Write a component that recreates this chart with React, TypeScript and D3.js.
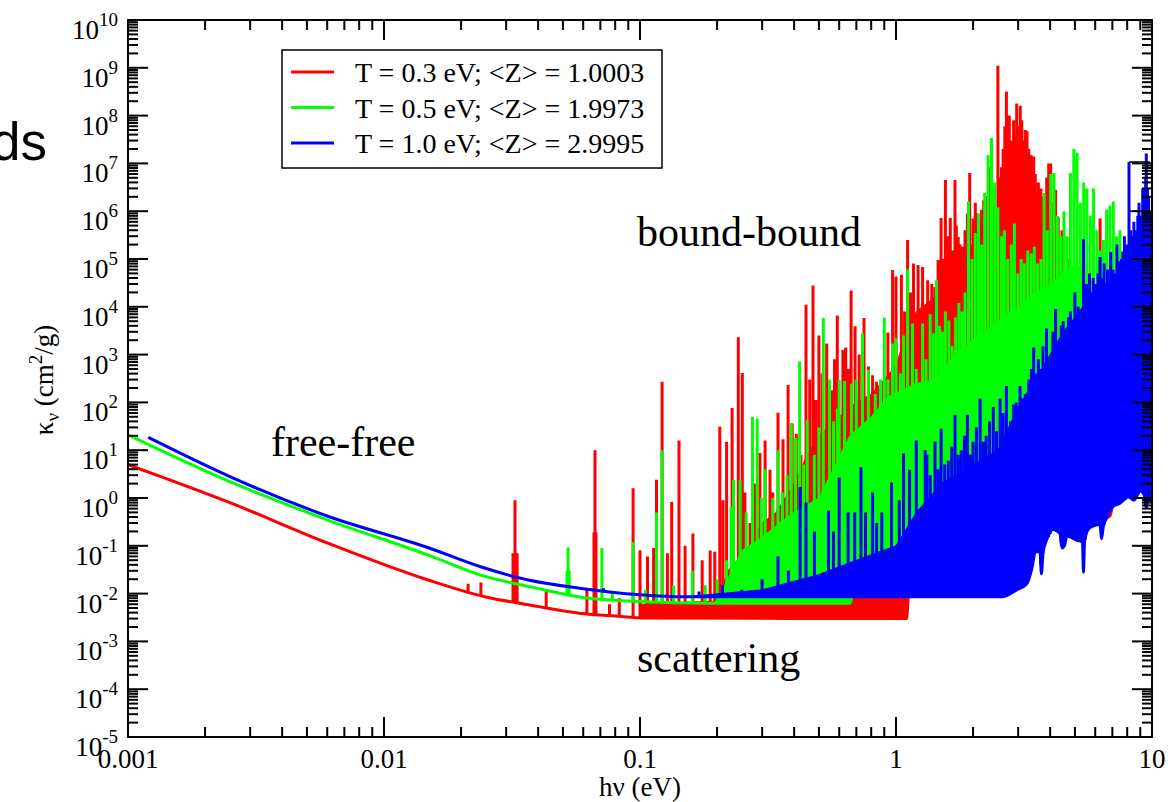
import React from "react";
import * as d3 from "d3";

type P = [number, number];

// axis ticks
const xTickVals = [0.001, 0.01, 0.1, 1, 10];
const xTickLabels = ["0.001", "0.01", "0.1", "1", "10"];
const yExponents = [-5, -4, -3, -2, -1, 0, 1, 2, 3, 4, 5, 6, 7, 8, 9, 10];

const legendLabels = [
  "T = 0.3 eV; <Z> = 1.0003",
  "T = 0.5 eV; <Z> = 1.9973",
  "T = 1.0 eV; <Z> = 2.9995",
];
const colors = ["#ff0000", "#00ff00", "#0000ff"];

// T = 0.3 eV (red): continuum floor, solid core of the line forest, single lines
const redCont: P[] = [
  [0.001, 5.0], [0.0025, 0.8], [0.006, 0.115], [0.015, 0.019], [0.025, 0.0085],
  [0.037, 0.0058], [0.058, 0.0039], [0.08, 0.0034], [0.106, 0.0031], [1.1, 0.003],
  [1.12, 0.0095], [2.5, 0.0095], [2.9, 0.016], [3.2, 0.025], [3.4, 0.05], [3.5, 0.09],
  [3.9, 0.15], [4.1, 0.25], [4.4, 0.25], [5.0, 0.3], [6.3, 0.35], [6.85, 0.42],
  [7.05, 0.75], [7.5, 0.9], [8.0, 1.2], [9.0, 1.6], [10, 1.6],
];
const redBand: P[] = [
  [0.1, 0.006], [0.2, 0.007], [0.22, 0.03], [0.26, 0.08], [0.3, 0.3], [0.34, 0.5],
  [0.4, 2], [0.45, 8], [0.5, 20], [0.6, 50], [0.7, 100], [0.8, 150], [0.9, 300],
  [1.0, 600], [1.1, 3e3], [1.2, 8e3], [1.4, 1.5e4], [1.6, 5e4], [1.9, 1e5],
  [2.2, 2e5], [2.5, 5e5], [2.8, 2e6], [3.1, 2e6], [3.4, 1e6], [3.7, 3e5], [4.0, 3e5],
  [4.3, 1e5], [4.6, 1e3], [5.0, 100], [6.0, 10], [8.0, 5], [10, 5],
];
const redLines: P[] = [
  [0.0213, 0.016], [0.0239, 0.017], [0.0319, 0.07], [0.0325, 0.9], [0.0331, 0.07],
  [0.043, 0.012], [0.062, 0.013], [0.0661, 0.19], [0.0667, 10], [0.0673, 0.19],
  [0.076, 0.006], [0.083, 0.008], [0.094, 1.6], [0.1, 0.081], [0.107, 0.06],
  [0.113, 0.09], [0.116, 2.4], [0.122, 270], [0.128, 0.07], [0.133, 0.83],
  [0.142, 16], [0.15, 0.1], [0.161, 0.18], [0.175, 0.05], [0.188, 0.08],
  [0.196, 0.075], [0.205, 31], [0.211, 0.9], [0.218, 15], [0.229, 76],
  [0.242, 2300], [0.251, 410], [0.257, 1.3], [0.269, 0.3], [0.28, 2], [0.294, 8.7],
  [0.308, 16], [0.322, 3.9], [0.33, 1.3], [0.346, 61], [0.362, 17], [0.379, 230],
  [0.393, 36], [0.408, 22], [0.425, 8], [0.445, 1.1e4], [0.46, 300], [0.474, 2.8e4],
  [0.486, 112], [0.5, 2.5e3], [0.515, 400], [0.536, 1.7e3], [0.562, 180],
  [0.575, 800], [0.59, 6.6e3], [0.62, 1.25e3], [0.636, 1.4e3], [0.65, 500],
  [0.668, 2.2e4], [0.692, 3.9e3], [0.718, 1e3], [0.75, 5.8e3], [0.78, 560],
  [0.81, 370], [0.84, 270], [0.88, 280], [0.93, 2.9e3], [0.97, 5.9e4], [1.0, 4.3e4],
  [1.05, 4.7e4], [1.08, 8e3], [1.11, 2.5e5], [1.14, 2e4], [1.17, 8e4], [1.22, 7.5e4],
  [1.27, 6.8e4], [1.33, 3.6e4], [1.38, 3e4], [1.42, 2.6e4], [1.46, 9.5e4],
  [1.5, 7.2e5], [1.53, 1e5], [1.56, 4.5e6], [1.59, 3e5], [1.63, 7.2e5], [1.66, 1.5e5],
  [1.7, 4.5e6], [1.72, 5e5], [1.75, 2.9e5], [1.78, 2e5], [1.82, 1.8e5], [1.86, 4e5],
  [1.9, 9e5], [1.94, 6.3e6], [1.97, 2e5], [2.0, 7e5], [2.04, 1.5e6], [2.08, 9e5],
  [2.12, 6e5], [2.16, 1.07e6], [2.2, 1.7e6], [2.24, 2e6], [2.28, 5e5], [2.3, 4e5],
  [2.33, 8.3e6], [2.37, 3e6], [2.42, 1.3e6], [2.46, 8e5], [2.5, 1.1e9], [2.53, 5e6],
  [2.58, 8.3e6], [2.62, 2e7], [2.66, 6e7], [2.7, 3.2e8], [2.74, 3e7], [2.77, 1e8],
  [2.8, 8e6], [2.84, 3e7], [2.88, 8e7], [2.92, 4e7], [2.96, 1.8e8], [3.0, 6e7],
  [3.06, 1.6e8], [3.1, 8e7], [3.14, 3e7], [3.2, 5e7], [3.25, 4.7e7], [3.3, 2e7],
  [3.37, 1.5e7], [3.4, 8e6], [3.45, 1.4e7], [3.5, 6e6], [3.55, 2.4e6], [3.6, 4e6],
  [3.68, 3e6], [3.75, 2e6], [3.8, 2.4e6], [3.88, 5e6], [3.95, 1e7], [4.02, 1e7],
  [4.1, 1.5e6], [4.2, 2.8e6], [4.3, 7.5e5], [4.45, 4e5], [4.7, 1e5], [5.2, 3e4],
  [6.2, 9.5e4], [6.27, 7e5],
];

// T = 0.5 eV (green)
const greenCont: P[] = [
  [0.001, 21], [0.0025, 2.2], [0.006, 0.35], [0.015, 0.063], [0.024, 0.024],
  [0.037, 0.014], [0.058, 0.0085], [0.1, 0.0068], [0.19, 0.0063], [0.66, 0.0063],
  [0.68, 0.0098], [2.5, 0.0098], [2.9, 0.017], [3.2, 0.027], [3.4, 0.055], [3.5, 0.1],
  [3.9, 0.17], [4.1, 0.27], [4.4, 0.27], [5.0, 0.32], [6.3, 0.37], [6.85, 0.6],
  [7.05, 0.8], [7.5, 0.95], [8.0, 1.25], [9.0, 1.7], [10, 1.7],
];
const greenBand: P[] = [
  [0.19, 0.0063], [0.2, 0.007], [0.22, 0.02], [0.25, 0.08], [0.3, 0.15], [0.35, 0.3],
  [0.4, 0.5], [0.5, 1], [0.66, 20], [0.8, 50], [0.93, 130], [1.2, 250], [1.43, 300],
  [1.7, 1e3], [2.0, 2e3], [2.5, 5e3], [3.0, 1e4], [3.5, 2e4], [4.0, 3e4], [4.5, 5e4],
  [5.0, 8e4], [5.5, 5e4], [6.0, 3e4], [7.0, 3e4], [8.0, 1e4], [9.0, 5e3], [10, 5e3],
];
const greenLines: P[] = [
  [0.0519, 0.03], [0.0524, 0.093], [0.0529, 0.03], [0.071, 0.09], [0.078, 0.01],
  [0.094, 0.12], [0.105, 0.012], [0.116, 0.5], [0.122, 10], [0.135, 0.015],
  [0.16, 0.03], [0.18, 0.015], [0.2, 0.02], [0.218, 0.05], [0.227, 0.65],
  [0.232, 2.4], [0.246, 2.4], [0.26, 0.5], [0.275, 50], [0.287, 46], [0.298, 1],
  [0.308, 4], [0.33, 1], [0.346, 10], [0.36, 1.3], [0.375, 3], [0.39, 37],
  [0.405, 18], [0.42, 720], [0.435, 5], [0.45, 42], [0.48, 8], [0.5, 30],
  [0.52, 5.8e3], [0.55, 300], [0.57, 40], [0.59, 75], [0.6, 300], [0.63, 280],
  [0.67, 250], [0.7, 300], [0.74, 2.8e3], [0.78, 480], [0.83, 150], [0.87, 300],
  [0.9, 6e3], [0.93, 300], [0.97, 1.7e3], [1.0, 2.2e3], [1.04, 400], [1.07, 2.5e3],
  [1.11, 6e4], [1.16, 4.5e3], [1.2, 500], [1.27, 4.5e3], [1.31, 800], [1.36, 7e3],
  [1.4, 2.8e3], [1.44, 3.6e4], [1.48, 4e3], [1.52, 3e3], [1.56, 8e3], [1.61, 5.2e3],
  [1.66, 1.5e3], [1.71, 6e3], [1.76, 1.2e4], [1.81, 8e3], [1.86, 2e4], [1.92, 1.6e6],
  [1.98, 1e5], [2.04, 3.5e5], [2.1, 9e5], [2.16, 2e5], [2.22, 2.4e6], [2.29, 1.5e7],
  [2.36, 3.4e7], [2.43, 4e6], [2.5, 1.2e6], [2.58, 3e5], [2.65, 4e5], [2.73, 1e5],
  [2.82, 2e5], [2.9, 5.5e5], [2.99, 5e4], [3.08, 1e5], [3.17, 8e4], [3.27, 1.5e5],
  [3.37, 1.3e5], [3.47, 1.8e5], [3.57, 8e4], [3.68, 1e5], [3.79, 2.4e6], [3.9, 4e5],
  [4.02, 6e6], [4.14, 6.3e6], [4.27, 8e5], [4.4, 3e5], [4.53, 1e6], [4.66, 3e5],
  [4.8, 6.3e6], [4.95, 2e7], [5.1, 1.7e7], [5.25, 1.5e6], [5.41, 4e6], [5.57, 3e6],
  [5.74, 8e5], [5.91, 3e6], [6.09, 4e5], [6.27, 1.5e5], [6.46, 2.5e5], [6.65, 1.07e6],
  [6.85, 1.3e6], [7.06, 1.6e6], [7.27, 3e5], [7.49, 4e5], [7.71, 1.5e5], [7.94, 1.2e5],
  [8.18, 5e4],
];

// T = 1.0 eV (blue)
const blueCont: P[] = [
  [0.0012, 18.5], [0.0025, 2.8], [0.006, 0.42], [0.015, 0.09], [0.024, 0.036],
  [0.037, 0.019], [0.058, 0.013], [0.1, 0.0095], [0.15, 0.0086], [2.6, 0.0086],
  [2.96, 0.012], [3.24, 0.016], [3.4, 0.035], [3.5, 0.075], [3.65, 0.075],
  [3.7, 0.026], [3.75, 0.07], [3.87, 0.13], [4.1, 0.22], [4.37, 0.18], [4.45, 0.09],
  [4.55, 0.1], [4.65, 0.16], [5.1, 0.13], [5.35, 0.12], [5.4, 0.028], [5.45, 0.12],
  [5.6, 0.21], [5.9, 0.26], [6.27, 0.28], [6.35, 0.14], [6.45, 0.25], [6.6, 0.35],
  [7.0, 0.64], [7.5, 0.78], [8.1, 1.05], [8.5, 0.9], [9.0, 1.4], [9.3, 1.2],
  [9.5, 0.64], [9.6, 0.9], [10, 0.9],
];
const blueBand: P[] = [
  [0.15, 0.0086], [0.3, 0.012], [0.5, 0.025], [0.7, 0.05], [1.0, 0.1], [1.2, 0.5],
  [1.5, 2], [2.0, 5], [2.5, 10], [3.0, 80], [3.5, 300], [4.0, 1e3], [4.5, 3e3],
  [5.0, 6e3], [5.5, 1.2e4], [6.0, 2e4], [7.0, 4e4], [8.0, 6e4], [9.0, 1e5], [10, 1.5e5],
];
const blueLines: P[] = [
  [0.072, 0.013], [0.17, 0.011], [0.21, 0.015], [0.25, 0.012], [0.3, 0.02],
  [0.346, 0.06], [0.38, 0.03], [0.422, 1.7], [0.445, 0.8], [0.48, 0.2], [0.545, 0.55],
  [0.57, 0.2], [0.6, 2.7], [0.65, 0.5], [0.69, 0.5], [0.73, 4.4], [0.76, 0.5],
  [0.81, 1.3], [0.84, 0.3], [0.88, 0.5], [0.96, 2.1], [1.03, 0.9], [1.07, 8.5],
  [1.13, 3.9], [1.2, 16], [1.25, 0.6], [1.3, 10], [1.32, 8], [1.36, 3], [1.42, 15],
  [1.46, 4], [1.5, 28], [1.55, 5], [1.6, 6], [1.65, 12], [1.7, 55], [1.75, 8],
  [1.8, 10], [1.85, 20], [1.9, 55], [1.95, 8], [2.0, 15], [2.06, 30], [2.13, 120],
  [2.19, 15], [2.25, 20], [2.32, 40], [2.4, 80], [2.47, 25], [2.55, 120], [2.62, 60],
  [2.7, 220], [2.8, 40], [2.88, 90], [2.95, 100], [3.05, 220], [3.12, 120], [3.2, 150],
  [3.3, 300], [3.38, 500], [3.45, 1.4e3], [3.52, 400], [3.6, 800], [3.68, 500],
  [3.75, 1.5e3], [3.87, 3.5e3], [3.94, 900], [4.0, 800], [4.1, 3e3], [4.2, 9e3],
  [4.35, 1.2e3], [4.42, 4e3], [4.5, 5e3], [4.65, 3e3], [4.72, 6e3], [4.8, 8e3],
  [4.9, 5e3], [5.0, 2e4], [5.08, 6e3], [5.15, 1e4], [5.25, 8e3], [5.4, 2.6e5],
  [5.48, 2e4], [5.55, 3e4], [5.7, 5e4], [5.8, 2e4], [5.9, 4e4], [6.05, 3e4],
  [6.15, 5e4], [6.27, 1.1e5], [6.4, 4e4], [6.5, 8e4], [6.7, 6e4], [6.9, 1.4e5],
  [7.05, 6e4], [7.2, 5e4], [7.3, 2e5], [7.45, 9e4], [7.6, 1e5], [7.7, 1.4e5],
  [7.8, 3e5], [7.9, 1e5], [8.0, 2e5], [8.13, 1.07e7], [8.25, 4e5], [8.4, 3e5],
  [8.5, 6e5], [8.6, 2e5], [8.7, 4e5], [8.8, 8e5], [8.9, 1.5e6], [9.0, 3e5],
  [9.1, 8e5], [9.2, 3e6], [9.3, 2e6], [9.35, 1e6], [9.45, 5e6], [9.5, 1.6e7],
  [9.6, 3e6], [9.7, 2e6], [9.8, 1e6], [9.85, 8e5], [9.95, 5e5],
];

// stray black segments near the upper right corner
const boxTop: P[] = [[8.13, 1.07e7], [9.8, 1.07e7]];
const boxBottom: P[] = [[8.2, 1e6], [9.0, 1e6]];

const serif = "'Liberation Serif', 'Times New Roman', serif";

const L = 128, R = 1152, T = 20, B = 737;
const x = d3.scaleLog().domain([0.001, 10]).range([L, R]);
const y = d3.scaleLog().domain([1e-5, 1e10]).range([B, T]);

// log-log lookup on a floor curve
function floorAt(cont: P[], hv: number) {
  if (hv <= cont[0][0]) return cont[0][1];
  for (let i = 1; i < cont.length; i++) {
    if (hv <= cont[i][0]) {
      const [x0, y0] = cont[i - 1];
      const [x1, y1] = cont[i];
      const t = Math.log(hv / x0) / Math.log(x1 / x0);
      return Math.exp(Math.log(y0) + t * Math.log(y1 / y0));
    }
  }
  return cont[cont.length - 1][1];
}

const line = d3.line<P>().x(d => x(d[0])).y(d => y(d[1]));
const smooth = d3.line<P>().x(d => x(d[0])).y(d => y(d[1])).curve(d3.curveMonotoneX);

function bandPath(band: P[], cont: P[]) {
  const a = band[0][0];
  const b = band[band.length - 1][0];
  const bottom: P[] = [[b, floorAt(cont, b)]];
  cont.filter(d => d[0] > a && d[0] < b).reverse().forEach(d => bottom.push(d));
  bottom.push([a, floorAt(cont, a)]);
  return line([...band, ...bottom]) + "Z";
}

function spikePath(lines: P[], cont: P[]) {
  return lines
    .map(([h, k]) => `M${x(h).toFixed(1)},${y(floorAt(cont, h)).toFixed(1)}V${y(k).toFixed(1)}`)
    .join("");
}

const series = [
  { cont: redCont, band: redBand, lines: redLines, color: colors[0] },
  { cont: greenCont, band: greenBand, lines: greenLines, color: colors[1] },
  { cont: blueCont, band: blueBand, lines: blueLines, color: colors[2] },
];

const minors = (lo: number, hi: number) => {
  const out: number[] = [];
  for (let e = lo; e < hi; e++) for (let m = 2; m <= 9; m++) out.push(m * Math.pow(10, e));
  return out;
};
const xMinor = minors(-3, 1);
const yMinor = minors(-5, 10);

export default function App() {
  return (
    <svg width={1170} height={802} style={{ position: "absolute", left: 0, top: 0, background: "#fff" }}>
      <defs>
        <clipPath id="plot">
          <rect x={L} y={T} width={R - L} height={B - T} />
        </clipPath>
      </defs>

      <text x={47} y={160} textAnchor="end" fontFamily="'Liberation Sans', Arial, sans-serif" fontSize={53}>ds</text>

      <g clipPath="url(#plot)">
        {series.map((s, i) => (
          <g key={i}>
            <path d={bandPath(s.band, s.cont)} fill={s.color} stroke={s.color} strokeWidth={1} />
            <path d={smooth(s.cont) || ""} fill="none" stroke={s.color} strokeWidth={3} />
            <path d={spikePath(s.lines, s.cont)} fill="none" stroke={s.color} strokeWidth={3} />
          </g>
        ))}
        <path d={line(boxTop) || ""} stroke="#000" strokeWidth={1.5} fill="none" />
        <path d={line(boxBottom) || ""} stroke="#000" strokeWidth={1.5} fill="none" />
      </g>

      {/* frame and ticks */}
      <rect x={L} y={T} width={R - L} height={B - T} fill="none" stroke="#000" strokeWidth={2} />
      <g stroke="#000" strokeWidth={2}>
        {xTickVals.map(v => (
          <g key={"xm" + v}>
            <line x1={x(v)} x2={x(v)} y1={B} y2={B - 20} />
            <line x1={x(v)} x2={x(v)} y1={T} y2={T + 20} />
          </g>
        ))}
        {xMinor.map(v => (
          <g key={"xn" + v}>
            <line x1={x(v)} x2={x(v)} y1={B} y2={B - 10} />
            <line x1={x(v)} x2={x(v)} y1={T} y2={T + 10} />
          </g>
        ))}
        {yExponents.map(e => (
          <g key={"ym" + e}>
            <line x1={L} x2={L + 20} y1={y(Math.pow(10, e))} y2={y(Math.pow(10, e))} />
            <line x1={R} x2={R - 20} y1={y(Math.pow(10, e))} y2={y(Math.pow(10, e))} />
          </g>
        ))}
        {yMinor.map(v => (
          <g key={"yn" + v}>
            <line x1={L} x2={L + 10} y1={y(v)} y2={y(v)} />
            <line x1={R} x2={R - 10} y1={y(v)} y2={y(v)} />
          </g>
        ))}
      </g>

      <g fontFamily={serif} fill="#000">
        {xTickVals.map((v, i) => (
          <text key={"xl" + v} x={x(v)} y={768} textAnchor="middle" fontSize={27}>{xTickLabels[i]}</text>
        ))}
        {yExponents.map(e => (
          <text key={"yl" + e} x={118} y={y(Math.pow(10, e)) + 19} textAnchor="end" fontSize={27}>
            10<tspan dy={-13} fontSize={19}>{e}</tspan>
          </text>
        ))}
        <text x={640} y={796} textAnchor="middle" fontSize={27}>hν (eV)</text>
        <text transform="translate(53,380) rotate(-90)" textAnchor="middle" fontSize={27}>
          κ<tspan dy={6} fontSize={19}>ν</tspan>
          <tspan dy={-6}> (cm</tspan>
          <tspan dy={-11} fontSize={19}>2</tspan>
          <tspan dy={11}>/g)</tspan>
        </text>

        <text x={271} y={456} fontSize={42}>free-free</text>
        <text x={637} y={246} fontSize={42}>bound-bound</text>
        <text x={637} y={672} fontSize={42}>scattering</text>
      </g>

      {/* legend */}
      <g>
        <rect x={282} y={50} width={380} height={118} fill="#fff" stroke="#000" strokeWidth={1.5} />
        {legendLabels.map((lab, i) => (
          <g key={lab}>
            <line x1={291} x2={334} y1={72 + i * 35.5} y2={72 + i * 35.5} stroke={colors[i]} strokeWidth={3} />
            <text x={355} y={82 + i * 35.5} fontFamily={serif} fontSize={28}>{lab}</text>
          </g>
        ))}
      </g>
    </svg>
  );
}
